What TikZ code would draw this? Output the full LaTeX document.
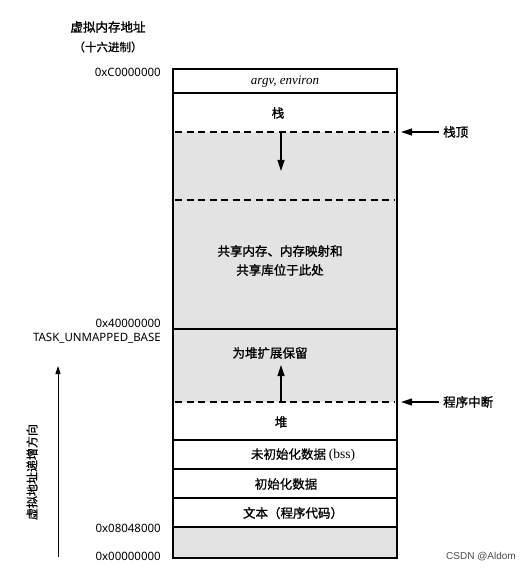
\documentclass[tikz,border=0pt]{standalone}
\usepackage{fontspec}
\setmainfont{Liberation Serif}
\newfontfamily\cjk[FakeBold=1.3]{Noto Sans CJK SC}
\newfontfamily\cjkl[FakeBold=0.6]{Noto Sans CJK SC}
\newfontfamily\hexf{Noto Sans}
\newfontfamily\wmf{Liberation Sans}
\usetikzlibrary{arrows.meta}
\definecolor{gfill}{HTML}{E3E3E3}
\begin{document}
\begin{tikzpicture}[x=1pt,y=-1pt,
  cn/.style={font=\cjk\fontsize{12.5}{14}\selectfont, inner sep=0pt},
  hex/.style={font=\hexf\fontsize{11.5}{13}\selectfont, inner sep=0pt, anchor=east},
  frame/.style={line width=1.1pt},
  dashline/.style={line width=1.1pt, dash pattern=on 7pt off 4.5pt},
  bigarrow/.style={line width=1.2pt, -{Triangle[length=11pt,width=7pt]}},
  ptrarrow/.style={line width=1.2pt, -{Triangle[length=11pt,width=7pt]}},
  thinarrow/.style={line width=0.8pt, -{Triangle[length=8pt,width=5pt]}}]
\useasboundingbox (0,0) rectangle (531,572);
\fill[white] (0,0) rectangle (531,572);
% shaded regions
\fill[gfill] (173,132) rectangle (397,402);
\fill[gfill] (173,527) rectangle (397,558);
% outer frame
\draw[frame] (173,69) rectangle (397,558);
% solid separators
\foreach \yy in {93,329,440,469,498,527}
  \draw[frame] (173,\yy) -- (397,\yy);
% dashed separators
\foreach \yy in {132,200,402}
  \draw[dashline] (175,\yy) -- (395,\yy);

% left labels
\node[cn] (title1) at (108,27) {虚拟内存地址};
\node[cn, font=\cjk\fontsize{11.5}{13}\selectfont] (title2) at (108,47) {（十六进制）};
\node[hex] (hC) at (161,72) {0xC0000000};
\node[hex] (h4) at (161,323) {0x40000000};
\node[hex] (htask) at (161,338) {TASK\_UNMAPPED\_BASE};
\node[hex] (h08) at (161,528) {0x08048000};
\node[hex] (h00) at (161,556) {0x00000000};

% direction arrow
\coordinate (dirS) at (58,557);
\coordinate (dirE) at (58,366);
\draw[thinarrow] (dirS) -- (dirE);
\node[cn, rotate=90, font=\cjkl\fontsize{12}{13}\selectfont] (dirlab) at (32,472) {虚拟地址递增方向};

% box contents
\node[font=\itshape\fontsize{13}{15}\selectfont, inner sep=0pt] (argv) at (285,82) {argv, environ};
\node[cn] (stack) at (278,113) {栈};
\node[cn] (shared1) at (280,251) {共享内存、内存映射和};
\node[cn] (shared2) at (280,270) {共享库位于此处};
\node[cn] (reserve) at (270,353) {为堆扩展保留};
\node[cn] (heap) at (281,422) {堆};
\node[cn, font=\cjkl\fontsize{12.5}{14}\selectfont] (bss) at (303,455) {未初始化数据 {\rmfamily\fontsize{13.5}{15}\selectfont (bss)}};
\node[cn, font=\cjkl\fontsize{12.5}{14}\selectfont] (idata) at (286,484) {初始化数据};
\node[cn] (text) at (293,513) {文本（程序代码）};

% growth arrows
\coordinate (stkS) at (281,132);
\coordinate (stkE) at (281,171);
\draw[bigarrow] (stkS) -- (stkE);
\coordinate (hpS) at (281,402);
\coordinate (hpE) at (281,365);
\draw[bigarrow] (hpS) -- (hpE);

% right pointers
\node[cn, anchor=west] (sttop) at (443,132) {栈顶};
\coordinate (sttopTip) at (401,132);
\draw[ptrarrow] (sttop.west) ++(-4,0) -- (sttopTip);
\node[cn, anchor=west] (brk) at (443,402) {程序中断};
\coordinate (brkTip) at (401,402);
\draw[ptrarrow] (brk.west) ++(-4,0) -- (brkTip);

% watermark
\node[font=\wmf\fontsize{10}{12}\selectfont, text=black!70, anchor=east, inner sep=0pt] (wm) at (516,557) {CSDN @Aldom};
\end{tikzpicture}
\end{document}
